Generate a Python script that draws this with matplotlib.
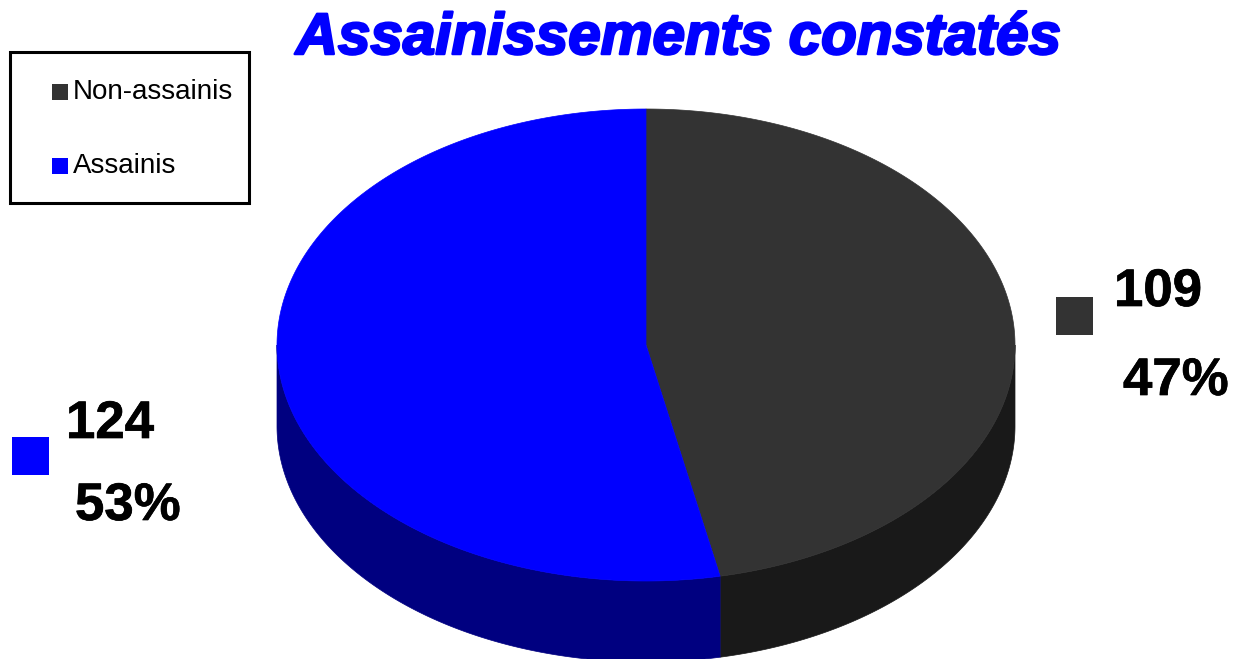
import numpy as np
import matplotlib
matplotlib.use("Agg")
import matplotlib.pyplot as plt
import matplotlib.patheffects as pe
from matplotlib.patches import Rectangle

categories = ["Non-assainis", "Assainis"]
counts = [109, 124]
percent_labels = ["47%", "53%"]
title = "Assainissements constatés"

TOP_COLORS = ["#333333", "#0000ff"]
SIDE_COLORS = ["#191919", "#000080"]
CX, CY, RX, RY, DEPTH = 646, 345, 369, 236, 81

plt.rcParams["font.family"] = ["Liberation Sans", "DejaVu Sans"]

fig = plt.figure(figsize=(12.35, 6.59), dpi=100)
ax = fig.add_axes([0, 0, 1, 1])
ax.set_xlim(0, 1235)
ax.set_ylim(659, 0)
ax.axis("off")


def rim(a0, a1, n=300):
    # angles in degrees, clockwise from 12 o'clock
    t = np.radians(np.linspace(a0, a1, n))
    return CX + RX * np.sin(t), CY - RY * np.cos(t)


edges = np.concatenate([[0], np.cumsum(counts) / sum(counts) * 360])

# side walls first, only the part of the rim facing the viewer (90..270 deg)
for i in range(len(counts)):
    a0, a1 = max(edges[i], 90), min(edges[i + 1], 270)
    if a1 > a0:
        x, y = rim(a0, a1)
        ax.fill(np.r_[x, x[::-1]], np.r_[y, y[::-1] + DEPTH],
                color=SIDE_COLORS[i], lw=0.5)

# top faces
for i in range(len(counts)):
    x, y = rim(edges[i], edges[i + 1])
    ax.fill(np.r_[CX, x], np.r_[CY, y], color=TOP_COLORS[i], lw=0.5)

ax.text(679, 39, title, color="#0000ff", fontsize=42, fontweight="bold",
        fontstyle="italic", ha="center", va="center",
        path_effects=[pe.withStroke(linewidth=1.8, foreground="#0000ff")])

# legend box
ax.add_patch(Rectangle((10, 52), 239, 151, fill=False, ec="black", lw=2.2))
legend_y = [92, 166]
for name, color, y in zip(categories, TOP_COLORS, legend_y):
    ax.add_patch(Rectangle((52, y - 8), 16, 16, fc=color, ec="none"))
    ax.text(73, y, name, fontsize=20, color="black", va="center", ha="left")

# value labels
label_pos = [(1114, 292, 1123, 381, 1056, 297), (66, 424, 75, 506, 12, 437)]
for count, pct, color, pos in zip(counts, percent_labels, TOP_COLORS, label_pos):
    stroke = [pe.withStroke(linewidth=0.5, foreground="black")]
    ax.text(pos[0], pos[1], str(count), fontsize=38, fontweight="bold",
            va="center", ha="left", path_effects=stroke)
    ax.text(pos[2], pos[3], pct, fontsize=38, fontweight="bold",
            va="center", ha="left", path_effects=stroke)
    ax.add_patch(Rectangle((pos[4], pos[5]), 37, 38, fc=color, ec="none"))

fig.savefig("out.png", dpi=100)
